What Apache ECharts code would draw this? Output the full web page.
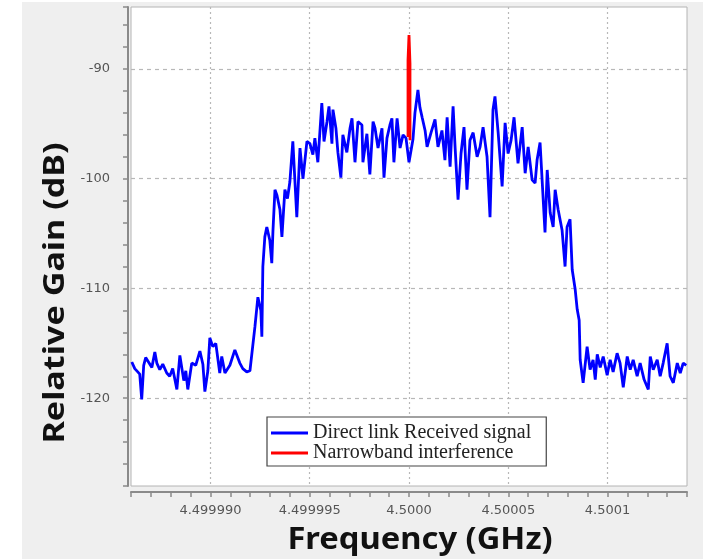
<!DOCTYPE html>
<html>
<head>
<meta charset="utf-8">
<script src="https://cdn.jsdelivr.net/npm/echarts@6/dist/echarts.min.js"></script>
<style>html,body{margin:0;padding:0;background:#fff;}#c{width:703px;height:559px;}</style>
</head>
<body>
<div id="c"></div>
<script>
// Frequency offset from 4.5 GHz, in kHz
const freqKHz = [-13.96,-13.81,-13.66,-13.56,-13.46,-13.36,-13.26,-13.16,-12.95,-12.80,-12.70,-12.55,-12.40,-12.20,-12.05,-11.90,-11.69,-11.54,-11.34,-11.24,-11.14,-10.94,-10.74,-10.53,-10.38,-10.28,-10.13,-10.03,-9.88,-9.73,-9.53,-9.43,-9.27,-9.02,-8.77,-8.52,-8.37,-8.17,-8.01,-7.86,-7.76,-7.66,-7.61,-7.46,-7.41,-7.36,-7.26,-7.16,-7.01,-6.91,-6.85,-6.75,-6.65,-6.50,-6.40,-6.25,
  -6.12,-6.00,-5.85,-5.65,-5.49,-5.34,-5.14,-4.99,-4.84,-4.74,-4.59,-4.39,-4.28,-4.13,-4.03,-3.88,-3.83,-3.68,-3.58,-3.43,-3.33,-3.13,-2.97,-2.87,-2.72,-2.57,-2.37,-2.32,-2.12,-1.97,-1.81,-1.71,-1.56,-1.36,-1.26,-1.11,-0.96,-0.86,-0.76,-0.60,-0.45,-0.30,-0.15,0.00,0.20,0.30,0.45,
  0.55,0.66,0.81,0.91,1.11,1.31,1.46,1.66,1.81,1.92,2.07,2.22,2.32,2.47,2.62,2.77,2.92,3.07,3.23,3.43,3.58,3.73,3.93,4.08,4.23,4.33,4.49,4.69,4.84,4.99,5.14,5.29,5.49,5.70,5.85,6.00,6.20,6.35,6.45,6.60,6.70,6.85,6.96,7.11,7.26,7.36,7.51,7.71,7.86,7.96,8.11,8.22,8.37,8.47,8.57,8.62,8.77,8.97,9.12,9.27,9.38,9.48,9.63,9.78,9.98,10.13,10.28,10.48,10.63,10.79,10.99,11.14,11.29,11.49,11.64,11.84,12.05,12.15,12.30,12.50,12.65,12.80,13.00,13.15,13.31,13.51,13.66,13.81,13.96];
const receivedDB = [-116.7,-117.3,-117.6,-117.8,-120.1,-117.0,-116.3,-116.2,-117.2,-115.8,-116.8,-117.4,-116.9,-117.7,-118.0,-117.3,-119.2,-116.1,-118.4,-117.5,-119.2,-116.8,-117.0,-115.7,-116.9,-119.4,-117.5,-114.5,-115.3,-115.0,-117.7,-116.2,-117.7,-117.0,-115.6,-116.8,-117.3,-117.6,-117.5,-115.1,-113.5,-111.7,-110.8,-112.0,-114.4,-108.0,-105.3,-104.4,-105.6,-107.7,-104.7,-101.0,-101.5,-102.8,-105.3,-101.0,
  -101.8,-100.3,-96.6,-103.5,-97.2,-100.0,-96.6,-96.8,-97.8,-96.3,-98.5,-93.1,-96.6,-94.8,-93.4,-96.8,-93.7,-95.4,-97.6,-99.9,-96.0,-97.6,-95.4,-94.5,-98.5,-94.8,-95.1,-98.5,-95.9,-99.6,-94.8,-95.4,-97.2,-95.4,-99.9,-96.3,-95.1,-94.5,-98.5,-94.5,-97.2,-96.0,-96.3,-98.5,-96.4,-94.0,-91.9,
  -93.5,-94.4,-95.6,-97.1,-95.8,-94.6,-97.1,-95.6,-98.3,-94.4,-98.9,-93.4,-97.1,-101.9,-97.7,-95.3,-101.0,-96.5,-95.8,-98.0,-97.1,-95.3,-98.0,-103.5,-93.7,-92.5,-95.8,-100.7,-94.9,-97.7,-96.5,-94.4,-98.6,-95.3,-99.5,-97.1,-100.1,-100.4,-98.3,-96.7,-96.6,-104.9,-99.2,-103.1,-104.4,-101.0,-102.8,-104.7,-108.0,-104.4,-103.7,-108.3,-110.1,-111.9,-112.9,-116.5,-118.6,-115.3,-117.4,-116.5,-118.3,-116.0,-117.2,-116.2,-117.9,-116.5,-117.6,-115.9,-116.8,-119.0,-116.2,-117.4,-116.5,-118.0,-116.8,-118.3,-119.2,-116.2,-117.4,-116.5,-118.0,-116.8,-115.0,-118.0,-118.6,-116.8,-117.7,-116.8,-117.0];
const interfFreqKHz = [-0.05,-0.05,0.0,0.05,0.05];
const interfDB = [-96.2,-89.2,-86.9,-89.5,-96.5];
const xTickValues = [-10,-5,0,5,10];
const xTickLabels = ['4.499990','4.499995','4.5000','4.50005','4.5001'];
const yTickValues = [-120,-110,-100,-90];
const yTickLabels = ['-120','-110','-100','-90'];
const seriesNames = ['Direct link Received signal','Narrowband interference'];

const pairs = (xs, ys) => xs.map((x, i) => [x, ys[i]]);
const lookup = (vals, labels) => v => {
  for (let i = 0; i < vals.length; i++) if (Math.abs(vals[i] - v) < 1e-6) return labels[i];
  return '';
};
const T = 'rgba(0,0,0,0)';

const chart = echarts.init(document.getElementById('c'), null, {renderer: 'canvas'});
chart.setOption({
  animation: false,
  backgroundColor: '#efefef',
  graphic: [
    {type: 'rect', shape: {x: 0, y: 0, width: 22, height: 559}, style: {fill: '#ffffff'}, silent: true},
    {type: 'rect', shape: {x: 0, y: 0, width: 703, height: 2}, style: {fill: '#ffffff'}, silent: true},
    {type: 'text', x: 56, y: 293, rotation: Math.PI / 2, scaleX: 1.22,
      style: {text: 'Relative Gain (dB)', font: 'bold 28px "Noto Sans"', fill: '#111', align: 'center', verticalAlign: 'middle'}},
    {type: 'text', x: 420, y: 540, scaleX: 1.09,
      style: {text: 'Frequency (GHz)', font: 'bold 30px "Noto Sans"', fill: '#111', align: 'center', verticalAlign: 'middle'}}
  ],
  grid: {left: 131, right: 16, top: 7, bottom: 73, show: true, backgroundColor: '#ffffff', borderColor: '#b4b4b4', borderWidth: 1},
  legend: {
    orient: 'vertical', left: 267, top: 417,
    backgroundColor: '#ffffff', borderColor: '#444', borderWidth: 1.2,
    padding: [6, 15, 3, 4], itemGap: 0, itemWidth: 37, itemHeight: 3, icon: 'rect',
    textStyle: {fontFamily: '"Liberation Serif", serif', fontSize: 20, lineHeight: 20, color: '#222'},
    data: seriesNames
  },
  xAxis: {
    type: 'value', min: -14, max: 14, interval: 1, offset: 6,
    axisLine: {onZero: false, lineStyle: {color: '#8a8a8a', width: 2}},
    axisTick: {show: true, length: 5, lineStyle: {color: '#8a8a8a', width: 1.5}},
    axisLabel: {formatter: lookup(xTickValues, xTickLabels), margin: 12, fontSize: 13, fontFamily: '"DejaVu Sans"', color: '#555'},
    splitLine: {show: true, lineStyle: {color: [T, T, T, T, '#b8b8b8'], type: [2, 3], width: 1.2}}
  },
  yAxis: {
    type: 'value', min: -128, max: -84.35, interval: 2, offset: 3,
    axisLine: {show: true, onZero: false, lineStyle: {color: '#8a8a8a', width: 2}},
    axisTick: {show: true, length: 5, lineStyle: {color: '#8a8a8a', width: 1.5}},
    axisLabel: {formatter: lookup(yTickValues, yTickLabels), margin: 18, fontSize: 13, fontFamily: '"DejaVu Sans"', color: '#555'},
    splitLine: {show: true, lineStyle: {color: [T, T, T, T, '#b8b8b8'], type: [4, 4], width: 1.2}}
  },
  series: [
    {name: seriesNames[0], type: 'line', data: pairs(freqKHz, receivedDB), showSymbol: false, symbol: 'none',
      lineStyle: {color: '#0000ff', width: 2.8}, itemStyle: {color: '#0000ff'}, z: 2},
    {name: seriesNames[1], type: 'line', data: pairs(interfFreqKHz, interfDB), showSymbol: false, symbol: 'none',
      lineStyle: {color: '#ff0000', width: 2.8}, itemStyle: {color: '#ff0000'}, z: 3}
  ]
});
</script>
</body>
</html>
